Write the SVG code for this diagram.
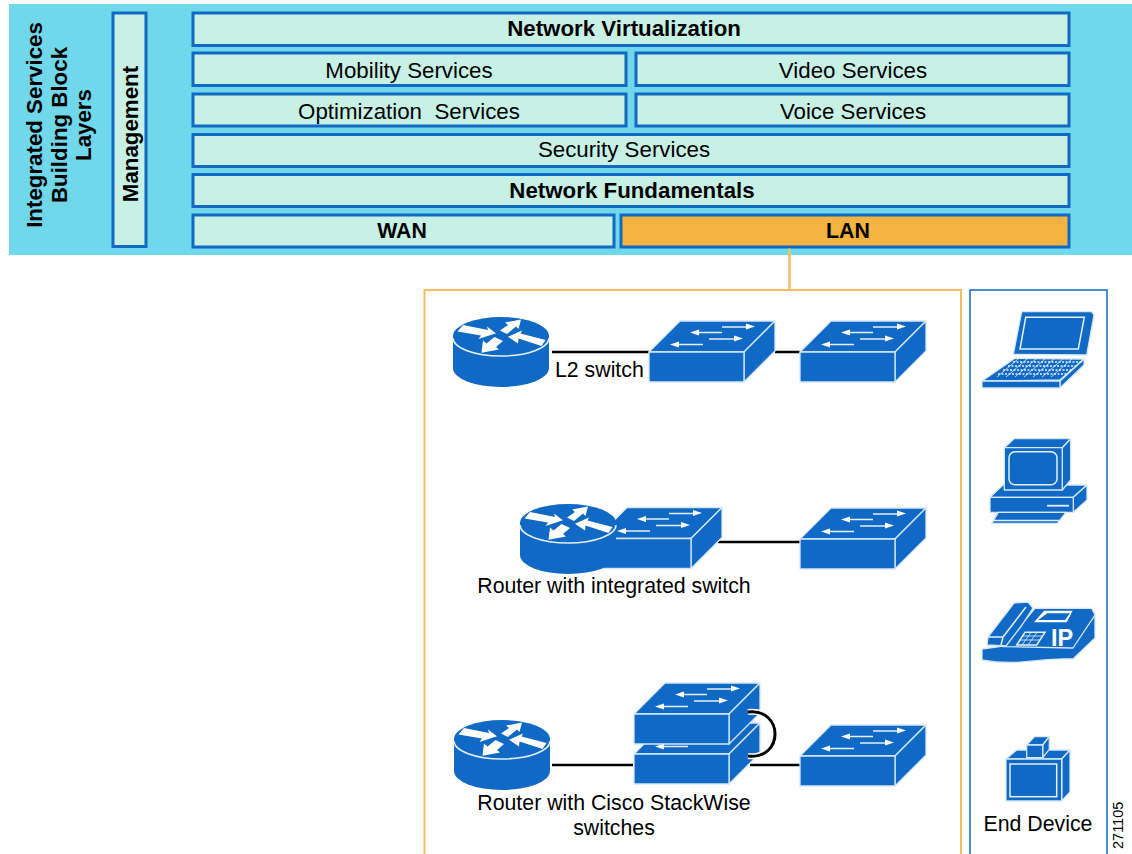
<svg xmlns="http://www.w3.org/2000/svg" width="1132" height="854" viewBox="0 0 1132 854">
<style>
text{font-family:"Liberation Sans",Arial,sans-serif;fill:#000;font-size:21.3px}
.l{font-size:22.3px}
.b{font-weight:bold}
.m{text-anchor:middle}
.box{fill:#C8F1E6;stroke:#1069C4;stroke-width:3}
.ic{fill:#1069C4;stroke:#D6E8F7;stroke-width:1.300;stroke-linejoin:round}
.nos{fill:#1069C4;stroke:none}
.wl{fill:none;stroke:#E4F0FA;stroke-width:1.500}
.wf{fill:#fff;stroke:none}
.con{fill:none;stroke:#000;stroke-width:2.500}
</style>
<defs>
<g id="router">
<path class="nos" d="M453 336A48 19 0 0 1 549 336V368A48 19 0 0 1 453 368Z"/>
<path class="wl" d="M453 338A48 18 0 0 0 549 338"/>
<polygon class="wf" points="457.500,331.500 463,325 488,330 487,326.500 496,333.300 478.500,339 481,335.500"/>
<polygon class="wf" points="500,330.500 508,325 505,322.500 521,319.500 518.500,329 516,326.500 507,334"/>
<polygon class="wf" points="503,341 496,347 499,349.500 481.500,352.800 483,340.500 486.500,343.500 494.500,337"/>
<polygon class="wf" points="545.500,340 541.500,346 518.500,338.500 518,343.500 508,336.700 522,330.500 520.500,333.500"/>
</g>
<g id="switch">
<polygon class="ic" points="649,352 680,321 775,321 744,352"/>
<polygon class="ic" points="744,352 775,321 775,351 744,382"/>
<rect class="ic" x="649" y="352" width="95" height="30"/>
<path class="wl" d="M722 327H748M697 332.500H722M709 339H736M677 344.500H703"/>
<polygon class="wf" points="746,323.500 755,326.500 746,329.500"/>
<polygon class="wf" points="699,329.500 690,332.500 699,335.500"/>
<polygon class="wf" points="734,335.500 743,338.500 734,341.500"/>
<polygon class="wf" points="679,341.500 670,344.500 679,347.500"/>
</g>
</defs>
<rect x="9" y="4" width="1123" height="251" fill="#70D8EA"/>
<g id="band-label">
<text class="b m l" transform="translate(42 125) rotate(-90)">Integrated Services</text>
<text class="b m l" transform="translate(67 125) rotate(-90)">Building Block</text>
<text class="b m l" transform="translate(91 125) rotate(-90)">Layers</text>
</g>
<g id="management"><rect class="box" x="113" y="13" width="33" height="233.500"/><text class="b m l" transform="translate(138 134) rotate(-90)">Management</text></g>
<g id="network-virtualization"><rect class="box" x="193" y="13" width="876" height="32.500"/><text class="b m l" x="624" y="36">Network Virtualization</text></g>
<g id="mobility"><rect class="box" x="193" y="53" width="433" height="32.500"/><text class="m l" x="409" y="78">Mobility Services</text></g>
<g id="video"><rect class="box" x="636" y="53" width="433" height="32.500"/><text class="m l" x="853" y="78">Video Services</text></g>
<g id="optimization"><rect class="box" x="193" y="94" width="433" height="32"/><text class="m l" x="409" y="119" xml:space="preserve">Optimization  Services</text></g>
<g id="voice"><rect class="box" x="636" y="94" width="433" height="32"/><text class="m l" x="853" y="119">Voice Services</text></g>
<g id="security"><rect class="box" x="193" y="134.500" width="876" height="32"/><text class="m l" x="624" y="157">Security Services</text></g>
<g id="fundamentals"><rect class="box" x="193" y="174.500" width="876" height="32"/><text class="b m l" x="632" y="198">Network Fundamentals</text></g>
<g id="wan"><rect class="box" x="193" y="215" width="421" height="32"/><text class="b m" x="402" y="238">WAN</text></g>
<g id="lan"><rect class="box" x="621" y="215" width="448" height="32" style="fill:#F5B341"/><text class="b m" x="848" y="238">LAN</text></g>
<g id="frames" fill="none">
<path stroke="#F7BE5F" stroke-width="2" d="M424.500 854V290H961V854"/>
<path stroke="#1069C4" stroke-width="1.500" d="M970 854V290H1107V854"/>
</g>
<g id="connectors">
<path stroke="#F7BE5F" stroke-width="2.500" fill="none" d="M789.500 248.500V290"/>
<path class="con" d="M552 352H649M775 352H800M718 542H800M552 765H633M750 765H800"/>
</g>
<g id="row1"><use href="#router"/><use href="#switch"/><use href="#switch" x="151"/><text x="555" y="377">L2 switch</text></g>
<g id="row2"><use href="#switch" x="-53" y="186.500"/><use href="#router" x="67" y="187"/><use href="#switch" x="151" y="187"/><text class="m" x="614" y="593">Router with integrated switch</text></g>
<g id="row3">
<use href="#router" x="1" y="403"/>
<use href="#switch" x="-15" y="402"/>
<use href="#switch" x="-15" y="362"/>
<use href="#switch" x="151" y="404"/>
<path fill="none" stroke="#fff" stroke-width="6" d="M748 712C784 708 784 760 748 756"/>
<path fill="none" stroke="#000" stroke-width="3" d="M748 712C784 708 784 760 748 756"/>
<text class="m" x="614" y="810">Router with Cisco StackWise</text>
<text class="m" x="614" y="835">switches</text>
</g>
<g id="laptop">
<polygon class="ic" points="1021.700,311.700 1091.700,311.700 1094,315 1086.700,355 1013.300,354.300"/>
<polygon class="wl" points="1025.700,317.300 1084.300,317.300 1078.300,349 1020,349"/>
<polygon class="ic" points="1015,358.300 1084,359 1060,380 982,381"/>
<polygon class="ic" points="1060,381 1084,359 1084,365 1060,388"/>
<rect class="ic" x="982" y="381" width="78" height="7"/>
<path class="wl" stroke-dasharray="2 1.500" d="M1013 362H1082M1008 366H1078M1003 370H1073M998 374H1068"/>
<path class="wl" style="stroke-width:.8" d="M1018 359L997 377M1027 359L1006 377M1036 359L1015 377M1045 359L1024 377M1054 359L1033 377M1063 359L1042 377M1072 359L1051 377"/>
</g>
<g id="pc">
<polygon class="ic" points="990,497.300 1003,485 1087,485 1073.300,497.300"/>
<polygon class="ic" points="1073.300,497.300 1087,485 1087,500 1073.300,512.300"/>
<rect class="ic" x="990" y="497.300" width="83.300" height="15"/>
<path class="wl" style="stroke-width:1.800" d="M1047 505.700H1069"/>
<polygon class="ic" points="1004.300,447.700 1014,438.700 1070.700,438.700 1062.300,447.700"/>
<polygon class="ic" points="1062.300,447.700 1070.700,438.700 1070.700,480 1062.300,490"/>
<rect class="ic" x="1004.300" y="447.700" width="58" height="42.300"/>
<rect class="wl" x="1009" y="451.700" width="48" height="33" rx="6"/>
<polygon class="ic" points="998.300,512.300 1066,512.300 1057.300,523.300 991.700,523.300"/>
<path class="wl" d="M993 520.500H1059"/>
</g>
<g id="ip-phone">
<path class="ic" d="M982 649L1003 646H1073L1095 615V638L1073 659C1040 657 1020 667 982 660Z"/>
<polygon class="ic" points="1035,608.300 1091.700,608.300 1095,615 1073,648 1003.300,646.700"/>
<polygon class="wf" points="1044,610.700 1072.700,610.700 1066.700,622.300 1034,622.300"/>
<polygon class="nos" points="1047.300,613.300 1070,613.300 1065,620 1038.300,620"/>
<path class="ic" d="M987 645L988 637L1014 603L1028 602L1033 608L1022 625L1006 646Z"/>
<path class="wl" d="M988 637H1003L1001 645M1003 637L1026 607"/>
<polygon class="wl" points="1025,632.300 1045,632.300 1036.700,645 1016.700,645"/>
<path class="wl" style="stroke-width:.8" d="M1023 636H1042M1020 640H1040M1031 632.300L1022 645M1037 632.300L1028 645"/>
<text class="b" style="fill:#fff;font-size:23.500px" x="1051" y="646">IP</text>
</g>
<g id="end-device">
<polygon class="ic" points="1006,759 1016.700,750 1070,750 1061.700,759"/>
<polygon class="ic" points="1061.700,759 1070,750 1070,792 1061.700,801"/>
<rect class="ic" x="1006" y="759" width="55.700" height="42"/>
<rect class="wl" x="1010" y="764" width="46.700" height="32.700"/>
<polygon class="ic" points="1026.700,745 1034.300,736.700 1049.300,736.700 1042.700,745"/>
<polygon class="ic" points="1042.700,745 1049.300,736.700 1049.300,749.300 1042.700,757.700"/>
<rect class="ic" x="1026.700" y="745" width="16" height="12.700"/>
<text class="m" x="1038" y="831">End Device</text>
</g>
<text style="font-size:14.500px" transform="translate(1123 849) rotate(-90)">271105</text>
</svg>
